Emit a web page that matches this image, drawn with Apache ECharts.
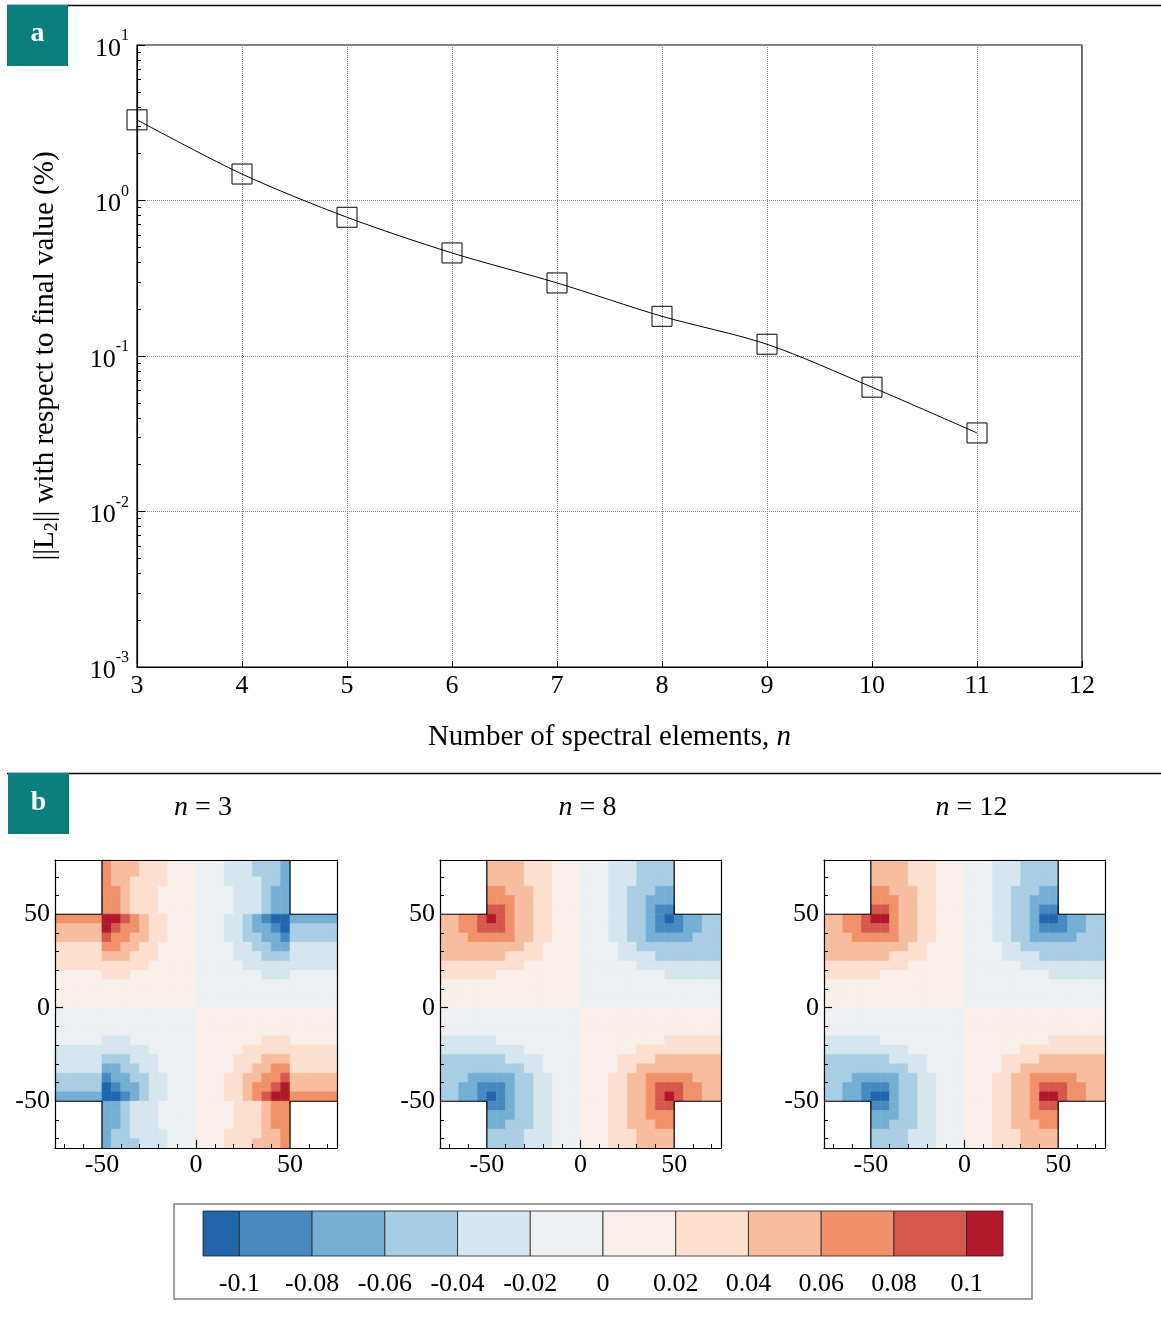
<!DOCTYPE html>
<html><head><meta charset="utf-8">
<script src="https://cdn.jsdelivr.net/npm/echarts@6/dist/echarts.min.js"></script>
<style>html,body{margin:0;padding:0;background:#fff}#c{width:1161px;height:1327px}</style>
</head><body><div id="c"></div><script>
// ---------- data: panel a ----------
const spectralElements = [3, 4, 5, 6, 7, 8, 9, 10, 11];
const l2ErrorPercent = [3.3, 1.48, 0.78, 0.46, 0.295, 0.18, 0.119, 0.063, 0.032];
const xAxisRange = [3, 12];
const yAxisRange = [0.001, 10];

// ---------- data: panel b ----------
const panelTitles = ['3', '8', '12'];
const levelBounds = [-0.1, -0.08, -0.06, -0.04, -0.02, 0, 0.02, 0.04, 0.06, 0.08, 0.1];
const colorbarRange = [-0.11, 0.11];
const levelCodes = '0123456789AB';
const levelValues = [-0.11, -0.09, -0.07, -0.05, -0.03, -0.01, 0.01, 0.03, 0.05, 0.07, 0.09, 0.11];
const levelColors = ['#2166ac', '#4689c0', '#74afd3', '#a9cde3', '#d5e6ef', '#ecf0f3',
                     '#f8eeea', '#fcdfcf', '#f8bc9f', '#f09169', '#d6574b', '#b2182b'];
const panelXRange = [-75, 75];
const panelYRange = [-75, 79];
const panelLabelTicks = [-50, 0, 50];
const panelMinorTicks = [-70, -60, -40, -30, -20, -10, 10, 20, 30, 40, 60, 70];
const cellSize = 5;      // field sampled on 5-unit cells
const fieldXStart = -75; // left edge of first column
const fieldYStart = 80;  // top edge of first row
// level codes read per 5x5 cell, rows top (y=80) to bottom (y=-75), '.' = outside domain
const fieldN3 = [
".....98887776665554443332.....",
".....98887776665554443332.....",
".....98877776665554444332.....",
".....99877766665555444322.....",
".....99877766665555444322.....",
".....99877766665555444322.....",
"99999BBA9877666555443210022222",
"88888BA99877666555443221033333",
"88888A998877666555443322133333",
"777779988776666555544332244444",
"777778887776666555544433344444",
"777777777766666555554444444444",
"666667776666666555555544455555",
"666666666666666555555555555555",
"666666666666666555555555555555",
"666666666666666555555555555555",
"555555555555555666666666666666",
"555555555555555666666666666666",
"555555555555555666666666666666",
"555554445555555666666677766666",
"444444444455555666667777777777",
"444443334445555666677788877777",
"444442233445555666677889977777",
"333331223344555666778899A88888",
"33333012234455566677899AB88888",
"2222200123445556667789ABB99999",
".....22344455556666777899.....",
".....22344455556666777899.....",
".....22344455556666777899.....",
".....23344445556667777889.....",
".....23334445556667778889....."];
const fieldN8 = [
".....88887776665554443333.....",
".....88887776665554443333.....",
".....88887776665554443333.....",
".....99888776665554433322.....",
".....99988776665554433222.....",
".....AA988776665554433211.....",
"8899ABA98877666555443321012233",
"8899AAA98877666555443321112233",
"888999998877666555443322222333",
"888888888776666555544333333333",
"888888877776666555544443333333",
"777777777666666555555444444444",
"777777666666666555555555444444",
"666666666666666555555555555555",
"666666666666666555555555555555",
"666666666666666555555555555555",
"555555555555555666666666666666",
"555555555555555666666666666666",
"555555555555555666666666666666",
"444444555555555666666666777777",
"444444444555555666666777777777",
"333333344445555666677778888888",
"333333333445555666677888888888",
"333222223344555666778899999888",
"33221112334455566677889AAA9988",
"33221012334455566677889ABA9988",
".....112334455566677889AA.....",
".....22233445556667788999.....",
".....22333445556667788899.....",
".....33334445556667778888.....",
".....33334445556667778888....."];
const fieldN12 = [
".....88887776665554443333.....",
".....88887776665554443333.....",
".....88887776665554443333.....",
".....99888776665554433322.....",
".....99988776665554433222.....",
".....AA988776665554433211.....",
"8899ABB98877666555443320012233",
"8899AAA98877666555443321112233",
"888999998877666555443322222333",
"888888888776666555544333333333",
"888888877776666555544443333333",
"777777777666666555555444444444",
"777777666666666555555555444444",
"666666666666666555555555555555",
"666666666666666555555555555555",
"666666666666666555555555555555",
"555555555555555666666666666666",
"555555555555555666666666666666",
"555555555555555666666666666666",
"444444555555555666666666777777",
"444444444555555666666777777777",
"333333344445555666677778888888",
"333333333445555666677888888888",
"333222223344555666778899999888",
"33221112334455566677889AAA9988",
"33221002334455566677889BBA9988",
".....112334455566677889AA.....",
".....22233445556667788999.....",
".....22333445556667788899.....",
".....33334445556667778888.....",
".....33334445556667778888....."];
// domain outline around the four cut-out corners (data units)
const notchCorners = [
  [[-75, 50], [-50, 50], [-50, 79]],
  [[75, 50], [50, 50], [50, 79]],
  [[-75, -50], [-50, -50], [-50, -75]],
  [[75, -50], [50, -50], [50, -75]]
];

// ---------- build ----------
const FONT = '"Liberation Serif","DejaVu Serif",serif';
const panelFields = [fieldN3, fieldN8, fieldN12];
const panelBoxes = [{left: 55, width: 282}, {left: 440, width: 281}, {left: 824, width: 281}];
const panelTop = 860, panelHeight = 288;

function fieldToCells(rows) {
  const out = [];
  rows.forEach((row, r) => {
    for (let c = 0; c < row.length; c++) {
      const k = levelCodes.indexOf(row[c]);
      if (k < 0) continue;
      out.push([fieldXStart + cellSize * (c + 0.5), fieldYStart - cellSize * (r + 0.5), levelValues[k]]);
    }
  });
  return out;
}
function renderCell(params, api) {
  const x = api.value(0), y = api.value(1);
  const a = api.coord([x - cellSize / 2, y + cellSize / 2]);
  const b = api.coord([x + cellSize / 2, y - cellSize / 2]);
  const cs = params.coordSys;
  const shape = echarts.graphic.clipRectByRect(
    {x: a[0], y: a[1], width: b[0] - a[0], height: b[1] - a[1]},
    {x: cs.x, y: cs.y, width: cs.width, height: cs.height});
  if (!shape) return null;
  const col = api.visual('color');
  return {type: 'rect', shape: shape, style: {fill: col, stroke: col, lineWidth: 0.6}};
}
function renderPiece(params, api) {
  const a = api.coord([api.value(0), 1]);
  const b = api.coord([api.value(1), 0]);
  return {type: 'rect', shape: {x: a[0], y: a[1], width: b[0] - a[0], height: b[1] - a[1]},
          style: {fill: api.visual('color'), stroke: '#222', lineWidth: 0.8}};
}

const logMinorTicks = [];
[0.001, 0.01, 0.1, 1].forEach(d => { for (let k = 2; k <= 9; k++) logMinorTicks.push(+(k * d).toPrecision(3)); });

const txt = {color: '#000', fontFamily: FONT, fontSize: 26};
const big = {color: '#000', fontFamily: FONT, fontSize: 29};
const grids = [{left: 137, top: 45, width: 945, height: 622, show: true, borderColor: '#000', borderWidth: 1.2}];
const xAxes = [{
  gridIndex: 0, type: 'value', min: xAxisRange[0], max: xAxisRange[1], interval: 1,
  axisLine: {onZero: false, lineStyle: {color: '#000', width: 1.2}},
  axisTick: {inside: true, length: 6, lineStyle: {color: '#000'}},
  axisLabel: Object.assign({margin: 6}, txt),
  splitLine: {show: true, lineStyle: {color: '#8a8a8a', type: 'dotted', width: 1}},
  name: '{r|Number of spectral elements, }{i|n}', nameLocation: 'middle', nameGap: 56,
  nameTextStyle: {rich: {r: Object.assign({}, big), i: Object.assign({fontStyle: 'italic'}, big)}}
}];
const yAxes = [{
  gridIndex: 0, type: 'log', logBase: 10, min: yAxisRange[0], max: yAxisRange[1], position: 'left',
  axisLine: {onZero: false, lineStyle: {color: '#000', width: 1.2}},
  axisTick: {inside: true, length: 8, lineStyle: {color: '#000'}},
  axisLabel: {margin: 8, formatter: v => '{b|10}{s|' + Math.round(Math.log10(v)) + '}',
    rich: {b: Object.assign({lineHeight: 34, verticalAlign: 'bottom'}, txt),
           s: {fontSize: 16, fontFamily: FONT, color: '#000', verticalAlign: 'top'}}},
  splitLine: {show: true, lineStyle: {color: '#8a8a8a', type: 'dotted', width: 1}},
  name: '{r|||L}{sub|2}{r||| with respect to final value (%)}', nameLocation: 'middle', nameGap: 76, nameRotate: 90,
  nameTextStyle: {rich: {r: Object.assign({lineHeight: 32}, big),
                         sub: {fontSize: 18, fontFamily: FONT, color: '#000', verticalAlign: 'bottom'}}}
}, {
  gridIndex: 0, type: 'log', logBase: 10, min: yAxisRange[0], max: yAxisRange[1], position: 'left',
  axisLine: {show: false, onZero: false}, axisLabel: {show: false}, splitLine: {show: false},
  axisTick: {inside: true, length: 4, customValues: logMinorTicks, lineStyle: {color: '#000'}}
}];

const series = [{
  type: 'line', xAxisIndex: 0, yAxisIndex: 0, z: 3,
  data: spectralElements.map((n, i) => [n, l2ErrorPercent[i]]),
  smooth: 0.3, symbol: 'rect', symbolSize: 20,
  lineStyle: {color: '#000', width: 1},
  itemStyle: {color: 'rgba(255,255,255,0)', borderColor: '#000', borderWidth: 1}
}];
const mappedSeries = [];
const graphics = [];
const titleRich = {
  i: {fontStyle: 'italic', fontSize: 28, fontFamily: FONT, fill: '#000', color: '#000'},
  e: {fontSize: 28, fontFamily: FONT, fill: '#000', color: '#000', padding: [0, 7, 0, 7]},
  t: {fontSize: 28, fontFamily: FONT, fill: '#000', color: '#000'}
};

panelBoxes.forEach((pb, p) => {
  const g = grids.length;
  grids.push({left: pb.left, top: panelTop, width: pb.width, height: panelHeight});
  const xi = xAxes.length, yi = yAxes.length;
  const base = {gridIndex: g, type: 'value', z: 5, splitLine: {show: false}};
  xAxes.push(
    Object.assign({min: panelXRange[0], max: panelXRange[1], position: 'bottom',
     axisLine: {onZero: false, lineStyle: {color: '#000', width: 1.2}},
     axisTick: {inside: true, length: 8, customValues: [0], lineStyle: {color: '#000', width: 1.2}},
     axisLabel: Object.assign({customValues: panelLabelTicks, margin: 4}, txt)}, base),
    Object.assign({min: panelXRange[0], max: panelXRange[1], position: 'bottom',
     axisLine: {show: false, onZero: false}, axisLabel: {show: false},
     axisTick: {inside: true, length: 4, customValues: panelMinorTicks, lineStyle: {color: '#000'}}}, base),
    Object.assign({min: panelXRange[0], max: panelXRange[1], position: 'top',
     axisLine: {onZero: false, lineStyle: {color: '#000', width: 1.2}}, axisTick: {show: false}, axisLabel: {show: false}}, base)
  );
  yAxes.push(
    Object.assign({min: panelYRange[0], max: panelYRange[1], position: 'left',
     axisLine: {onZero: false, lineStyle: {color: '#000', width: 1.2}},
     axisTick: {inside: true, length: 8, customValues: [0], lineStyle: {color: '#000', width: 1.2}},
     axisLabel: Object.assign({customValues: panelLabelTicks, margin: 5}, txt)}, base),
    Object.assign({min: panelYRange[0], max: panelYRange[1], position: 'left',
     axisLine: {show: false, onZero: false}, axisLabel: {show: false},
     axisTick: {inside: true, length: 4, customValues: panelMinorTicks, lineStyle: {color: '#000'}}}, base),
    Object.assign({min: panelYRange[0], max: panelYRange[1], position: 'right',
     axisLine: {onZero: false, lineStyle: {color: '#000', width: 1.2}}, axisTick: {show: false}, axisLabel: {show: false}}, base)
  );
  mappedSeries.push(series.length);
  series.push({type: 'custom', xAxisIndex: xi, yAxisIndex: yi, z: 1, renderItem: renderCell,
               data: fieldToCells(panelFields[p])});
  notchCorners.forEach(pts => series.push({type: 'line', xAxisIndex: xi, yAxisIndex: yi, z: 4,
    data: pts, symbol: 'none', lineStyle: {color: '#000', width: 1.2}}));
  graphics.push({type: 'text', x: pb.left + pb.width / 2 + 7, y: 808, z: 10,
    style: {text: '{i|n}{e|=}{t|' + panelTitles[p] + '}', fill: '#000', fontSize: 28, fontFamily: FONT,
            align: 'center', textAlign: 'center', verticalAlign: 'middle', textVerticalAlign: 'middle',
            rich: titleRich}});
});

// colorbar
const cbGrid = grids.length;
grids.push({left: 203, top: 1211, width: 800, height: 45});
const cbx = xAxes.length, cby = yAxes.length;
xAxes.push({gridIndex: cbGrid, type: 'value', min: colorbarRange[0], max: colorbarRange[1],
  axisLine: {show: false, onZero: false}, axisTick: {show: false}, splitLine: {show: false},
  axisLabel: Object.assign({customValues: levelBounds, margin: 15,
    formatter: v => String(Math.round(v * 100) / 100)}, txt)});
yAxes.push({gridIndex: cbGrid, type: 'value', min: 0, max: 1, show: false});
const pieceEdges = [colorbarRange[0]].concat(levelBounds, [colorbarRange[1]]);
mappedSeries.push(series.length);
series.push({type: 'custom', xAxisIndex: cbx, yAxisIndex: cby, renderItem: renderPiece,
  data: levelValues.map((v, i) => [pieceEdges[i], pieceEdges[i + 1], v])});

const pieces = levelColors.map((col, i) => {
  if (i === 0) return {lt: levelBounds[0], color: col};
  if (i === levelColors.length - 1) return {gte: levelBounds[levelBounds.length - 1], color: col};
  return {gte: levelBounds[i - 1], lt: levelBounds[i], color: col};
});

graphics.push(
  {type: 'line', shape: {x1: 7, y1: 5.5, x2: 1161, y2: 5.5}, style: {stroke: '#000', lineWidth: 1.5}},
  {type: 'rect', shape: {x: 7, y: 5, width: 61, height: 61}, style: {fill: '#0b7f7e'}},
  {type: 'text', x: 37.5, y: 34, style: {text: 'a', fill: '#fff', fontSize: 28, fontWeight: 'bold', fontFamily: FONT,
    align: 'center', textAlign: 'center', verticalAlign: 'middle', textVerticalAlign: 'middle'}},
  {type: 'line', shape: {x1: 7, y1: 773.5, x2: 1161, y2: 773.5}, style: {stroke: '#000', lineWidth: 1.5}},
  {type: 'rect', shape: {x: 8, y: 773, width: 61, height: 61}, style: {fill: '#0b7f7e'}},
  {type: 'text', x: 38.5, y: 803, style: {text: 'b', fill: '#fff', fontSize: 28, fontWeight: 'bold', fontFamily: FONT,
    align: 'center', textAlign: 'center', verticalAlign: 'middle', textVerticalAlign: 'middle'}},
  {type: 'rect', shape: {x: 174, y: 1204, width: 858, height: 95}, style: {fill: 'none', stroke: '#808080', lineWidth: 1.5}}
);

const chart = echarts.init(document.getElementById('c'));
chart.setOption({
  animation: false,
  backgroundColor: '#fff',
  grid: grids, xAxis: xAxes, yAxis: yAxes,
  visualMap: {type: 'piecewise', show: false, dimension: 2, seriesIndex: mappedSeries, pieces: pieces},
  series: series,
  graphic: graphics
});
</script></body></html>
